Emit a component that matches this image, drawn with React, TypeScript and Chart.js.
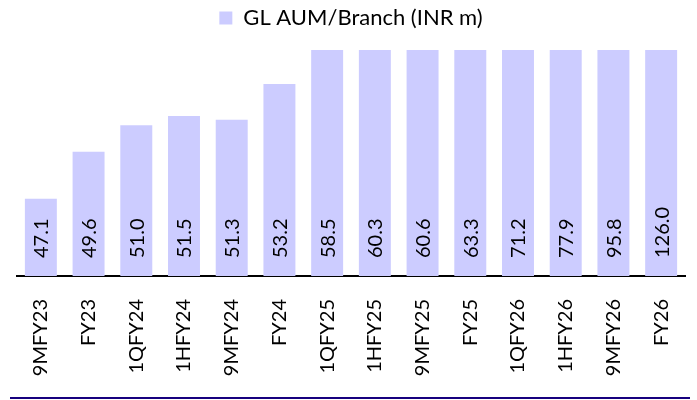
import React, { useEffect, useRef } from "react";
import { Chart, registerables } from "chart.js";

Chart.register(...registerables);

const categories = [
  "9MFY23", "FY23", "1QFY24", "1HFY24", "9MFY24", "FY24", "1QFY25",
  "1HFY25", "9MFY25", "FY25", "1QFY26", "1HFY26", "9MFY26", "FY26",
];
const aumPerBranch = [47.1, 49.6, 51.0, 51.5, 51.3, 53.2, 58.5, 60.3, 60.6, 63.3, 71.2, 77.9, 95.8, 126.0];
const seriesName = "GL AUM/Branch (INR m)";
const yMin = 43;
const yMax = 55;

const FONT = "Lato, 'DejaVu Sans', sans-serif";

const valueLabels = {
  id: "valueLabels",
  afterDatasetsDraw(chart: any) {
    const ctx = chart.ctx;
    const meta = chart.getDatasetMeta(0);
    const data = chart.data.datasets[0].data as number[];
    const bottom = chart.chartArea.bottom;
    ctx.save();
    ctx.fillStyle = "#000";
    ctx.font = `20px ${FONT}`;
    ctx.textAlign = "left";
    ctx.textBaseline = "middle";
    meta.data.forEach((bar: any, i: number) => {
      ctx.save();
      ctx.translate(bar.x, bottom - 18);
      ctx.rotate(-Math.PI / 2);
      ctx.fillText(data[i].toFixed(1), 0, 1);
      ctx.restore();
    });
    ctx.restore();
  },
};

const legendGap = {
  id: "legendGap",
  beforeInit(chart: any) {
    const legend = chart.legend;
    if (!legend) return;
    const orig = legend.fit;
    legend.fit = function () {
      orig.call(this);
      this.height += 11;
    };
  },
};

export default function App() {
  const ref = useRef<HTMLCanvasElement | null>(null);
  useEffect(() => {
    document.body.style.margin = "0";
    if (!ref.current) return;
    const chart = new Chart(ref.current, {
      type: "bar",
      data: {
        labels: categories,
        datasets: [
          {
            label: seriesName,
            data: aumPerBranch,
            backgroundColor: "#ccccff",
            borderWidth: 0,
            categoryPercentage: 1,
            barPercentage: 0.67,
            clip: 0,
          } as any,
        ],
      },
      options: {
        animation: false,
        responsive: false,
        maintainAspectRatio: false,
        layout: { padding: { left: 17, right: 12, top: 0, bottom: 0 } },
        plugins: {
          legend: {
            display: true,
            position: "top",
            labels: {
              color: "#000",
              font: { family: FONT, size: 22 },
              boxWidth: 13,
              boxHeight: 13,
              padding: 7,
            },
          },
          tooltip: { enabled: false },
        },
        scales: {
          x: {
            grid: { display: false, drawTicks: false },
            border: { display: true, color: "#000", width: 2 },
            afterFit(scale: any) {
              scale.height = 124;
              scale.paddingLeft = 0;
              scale.paddingRight = 0;
            },
            ticks: {
              color: "#000",
              font: { family: FONT, size: 20 },
              minRotation: 90,
              maxRotation: 90,
              padding: 23,
              autoSkip: false,
            },
          },
          y: {
            display: false,
            min: yMin,
            max: yMax,
          },
        },
      },
      plugins: [legendGap, valueLabels],
    });
    return () => chart.destroy();
  }, []);
  return (
    <div style={{ position: "relative", width: 697, height: 400 }}>
      <canvas ref={ref} width={697} height={400} style={{ display: "block" }} />
      <div
        style={{
          position: "absolute",
          left: 10,
          top: 397,
          width: 680,
          height: 2,
          background: "#17007e",
        }}
      />
    </div>
  );
}
